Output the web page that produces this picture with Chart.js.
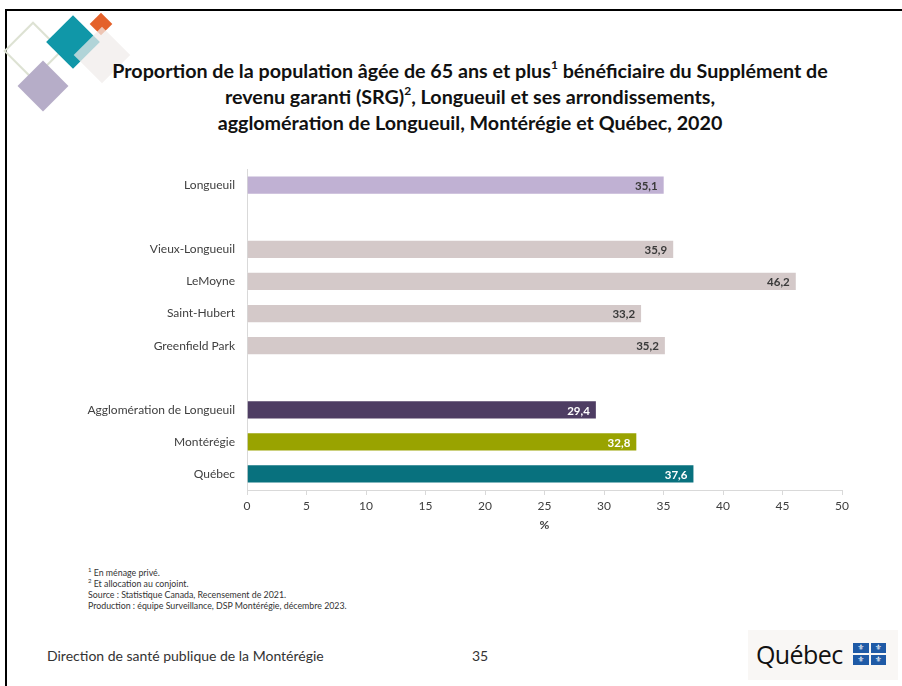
<!DOCTYPE html>
<html lang="fr">
<head>
<meta charset="utf-8">
<script src="https://cdn.jsdelivr.net/npm/chart.js@4"></script>
<style>
  html, body { margin: 0; padding: 0; background: #fff; }
  body { width: 902px; height: 686px; position: relative; overflow: hidden; font-family: Lato, "Open Sans", sans-serif; color: #262626; }
  .frame { position: absolute; left: 5px; top: 9px; right: -4px; bottom: -4px; border-left: 2px solid #000; border-top: 2px solid #000; }
  .dia { position: absolute; transform: rotate(45deg); }
  .title { position: absolute; left: 40px; width: 860px; top: 58px; text-align: center; font-weight: 700; font-size: 19.7px; line-height: 26px; color: #111; }
  .title sup { font-size: 12px; line-height: 0; position: relative; top: -1px; }
  .chart { position: absolute; left: 0; top: 150px; width: 902px; height: 386px; }
  .notes { position: absolute; left: 88px; top: 567px; font-size: 8.8px; line-height: 11px; color: #333; }
  .notes sup { font-size: 6px; line-height: 0; }
  .footer { position: absolute; left: 47px; top: 647px; font-size: 14px; color: #333; }
  .page { position: absolute; left: 472px; top: 647px; font-size: 14px; color: #333; }
  .logo { position: absolute; left: 748px; top: 630px; width: 150px; height: 50px; background: #f9f7f5; }
  .logo .txt { position: absolute; left: 8px; top: 7px; font-family: "Open Sans", sans-serif; font-size: 25px; letter-spacing: -0.6px; color: #111; }
  .flag { position: absolute; left: 105px; top: 13px; width: 33px; height: 22px; display: grid; grid-template-columns: 1fr 1fr; grid-gap: 2px; }
  .flag div { background: #1f5aa6; color: #fff; font-size: 8px; line-height: 10px; text-align: center; font-family: "DejaVu Sans", sans-serif; }
</style>
</head>
<body>
<div class="frame"></div>

<div class="dia" style="left:12px;top:30px;width:38px;height:38px;border:2px solid #dde2d3;"></div>
<div class="dia" style="left:25px;top:68px;width:36px;height:36px;background:#b6adc8;"></div>
<div class="dia" style="left:54px;top:23px;width:38px;height:38px;background:#1097a8;"></div>
<div class="dia" style="left:93px;top:16px;width:16px;height:16px;background:#e4612a;"></div>
<div class="dia" style="left:82px;top:35px;width:40px;height:40px;background:rgba(240,236,234,0.72);"></div>

<div class="title">
  Proportion de la population âgée de 65 ans et plus<sup>1</sup> bénéficiaire du Supplément de<br>
  revenu garanti (SRG)<sup>2</sup>, Longueuil et ses arrondissements,<br>
  agglomération de Longueuil, Montérégie et Québec, 2020
</div>

<div class="chart"><canvas id="chart"></canvas></div>

<div class="notes">
  <sup>1</sup> En ménage privé.<br>
  <sup>2</sup> Et allocation au conjoint.<br>
  Source : Statistique Canada, Recensement de 2021.<br>
  Production : équipe Surveillance, DSP Montérégie, décembre 2023.
</div>

<div class="footer">Direction de santé publique de la Montérégie</div>
<div class="page">35</div>
<div class="logo">
  <span class="txt">Québec</span>
  <div class="flag"><div>⚜</div><div>⚜</div><div>⚜</div><div>⚜</div></div>
</div>

<script>
const categories = ["Longueuil", "", "Vieux-Longueuil", "LeMoyne", "Saint-Hubert", "Greenfield Park", "", "Agglomération de Longueuil", "Montérégie", "Québec"]
const values = [35.1, null, 35.9, 46.2, 33.2, 35.2, null, 29.4, 32.8, 37.6]
const xTicks = [0, 5, 10, 15, 20, 25, 30, 35, 40, 45, 50]

const barColors = ["#c0b1d3", null, "#d4c9c9", "#d4c9c9", "#d4c9c9", "#d4c9c9", null, "#4e3d63", "#99a300", "#08717e"]
const labelColors = ["#3a3a3a", null, "#3a3a3a", "#3a3a3a", "#3a3a3a", "#3a3a3a", null, "#fff", "#fff", "#fff"]

const valueLabels = {
  id: "valueLabels",
  afterDatasetsDraw(chart) {
    const ctx = chart.ctx
    const meta = chart.getDatasetMeta(0)
    ctx.save()
    ctx.font = "bold 11.5px Lato"
    ctx.textAlign = "right"
    ctx.textBaseline = "middle"
    meta.data.forEach((bar, i) => {
      if (values[i] == null) return
      ctx.fillStyle = labelColors[i]
      ctx.fillText(values[i].toFixed(1).replace(".", ","), bar.x - 7, bar.y + 1)
    })
    ctx.restore()
  }
}

new Chart(document.getElementById("chart"), {
  type: "bar",
  data: {
    labels: categories,
    datasets: [{
      data: values,
      backgroundColor: barColors,
      borderColor: "rgba(255,255,255,0.5)",
      borderWidth: 1,
      barPercentage: 0.6,
      categoryPercentage: 1
    }]
  },
  options: {
    indexAxis: "y",
    responsive: true,
    maintainAspectRatio: false,
    animation: false,
    layout: { padding: { top: 13, right: 60, left: 0, bottom: 0 } },
    plugins: { legend: { display: false }, tooltip: { enabled: false } },
    scales: {
      x: {
        min: 0,
        max: 50,
        afterFit(scale) { scale.height = 46 },
        afterBuildTicks(scale) { scale.ticks = xTicks.map(v => ({ value: v })) },
        grid: { drawOnChartArea: false, drawTicks: true, tickLength: 5, color: "#d9d9d9" },
        border: { color: "#d9d9d9" },
        ticks: { color: "#404040", font: { family: "Lato", size: 12 }, padding: 4, maxRotation: 0 },
        title: { display: true, text: "%", color: "#404040", font: { family: "Lato", size: 12, weight: "bold" }, padding: { top: 0, bottom: 4 } }
      },
      y: {
        afterFit(scale) { scale.width = 247 },
        grid: { display: true, drawOnChartArea: false, drawTicks: false },
        border: { color: "#d9d9d9" },
        ticks: { color: "#404040", font: { family: "Lato", size: 12 }, padding: 12 }
      }
    }
  },
  plugins: [valueLabels]
})
</script>
</body>
</html>
